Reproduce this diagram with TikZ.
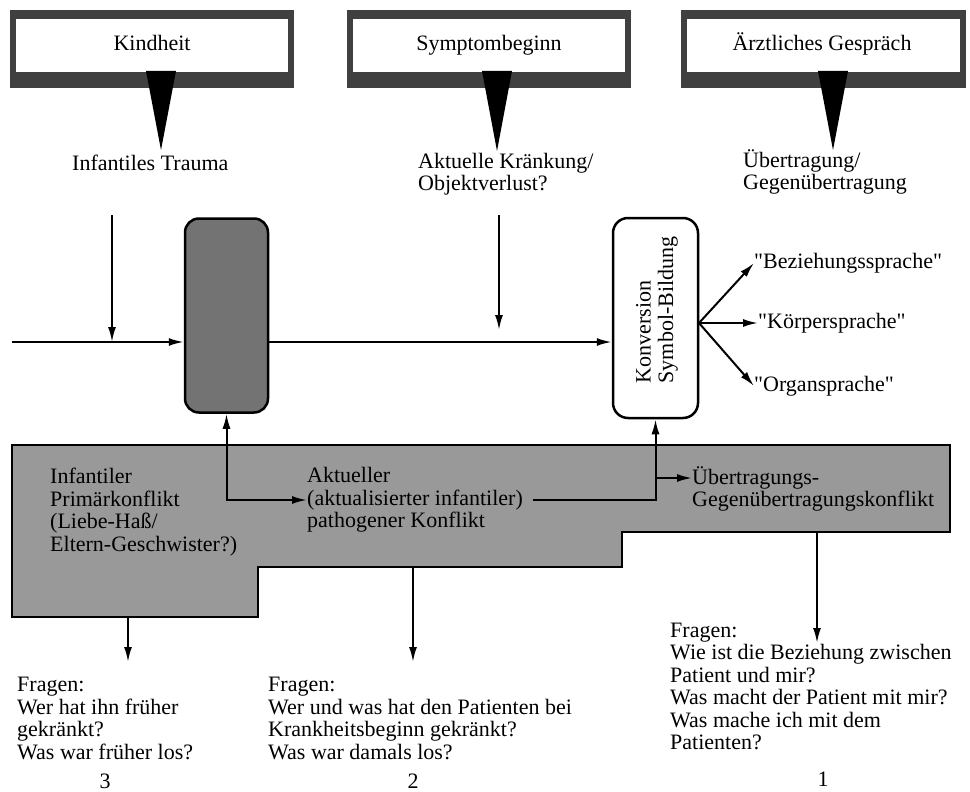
\documentclass[tikz,border=0pt]{standalone}
\usepackage{fontspec}
\newfontfamily\libser{Liberation Serif}
\usetikzlibrary{arrows.meta}
\begin{document}
\begin{tikzpicture}[x=1pt,y=-1pt,
  txt/.style={font=\libser\fontsize{22}{22.5}\selectfont, inner sep=0pt, align=left},
  arr/.style={line width=2pt, -{Latex[length=15pt,width=8pt]}},
  dblarr/.style={line width=2pt, {Latex[length=15pt,width=8pt]}-{Latex[length=15pt,width=8pt]}},
  band/.style={fill=black!75},
  wedge/.style={fill=black},
  region/.style={fill=black!40, draw=black, line width=2.5pt},
  rbox/.style={draw=black, line width=2.5pt, rounded corners=14pt, minimum width=83pt, minimum height=194pt, inner sep=0pt}
]
\useasboundingbox (0,0) rectangle (970,792);

% top boxes
\fill[band] (10,10) rectangle (294,88);
\fill[white] (16,19) rectangle (288,72);
\node[txt, anchor=base] (kind) at (152,51) {Kindheit};
\fill[wedge] (146,71) -- (176,71) -- (161,150) -- cycle;
\node[txt, anchor=west] (trauma) at (72,163) {Infantiles Trauma};

\fill[band] (347,10) rectangle (631,88);
\fill[white] (353,19) rectangle (625,72);
\node[txt, anchor=base] (symp) at (489,51) {Symptombeginn};
\fill[wedge] (482,71) -- (512,71) -- (497,151) -- cycle;
\node[txt, anchor=west] (kraenk) at (418,174) {Aktuelle Kränkung/\\Objektverlust?};

\fill[band] (681,10) rectangle (966,88);
\fill[white] (687,19) rectangle (960,72);
\node[txt, anchor=base] (arzt) at (822,51) {Ärztliches Gespräch};
\fill[wedge] (818,71) -- (848,71) -- (833,150) -- cycle;
\node[txt, anchor=west] (uebert) at (743,172) {Übertragung/\\Gegenübertragung};

% shaded region
\draw[region] (12,445) -- (950,445) -- (950,532) -- (622,532) -- (622,567) -- (258,567) -- (258,617) -- (12,617) -- cycle;
\node[txt, anchor=west] (inf) at (50,512) {Infantiler\\Primärkonflikt\\(Liebe-Haß/\\Eltern-Geschwister?)};
\node[txt, anchor=west] (akt) at (307,500) {Aktueller\\(aktualisierter infantiler)\\pathogener Konflikt};
\node[txt, anchor=west] (ueb) at (692,489) {Übertragungs-\\Gegenübertragungskonflikt};

% middle boxes
\node[rbox, fill=black!55] (box1) at (226.5,315.5) {};
\node[rbox, fill=white, minimum width=85pt, minimum height=200pt, rounded corners=15pt] (box2) at (655.5,318) {};
\node[txt, rotate=90] (konv) at (657,310) {Konversion\\Symbol-Bildung};

% horizontal flow
\coordinate (h0) at (12,342);
\draw[arr] (h0) -- (h0 -| box1.west);
\draw[arr] (h0 -| box1.east) -- (h0 -| box2.west);
\coordinate (v1) at (112,215);
\draw[arr] (v1) -- (v1 |- h0);
\coordinate (v2) at (499,215);
\coordinate (v2e) at (499,330);
\draw[arr] (v2) -- (v2e);

% fan
\coordinate (fan) at (699,323);
\node[txt, anchor=west] (bez) at (754,263) {"Beziehungssprache"};
\node[txt, anchor=west] (kp) at (758,323) {"Körpersprache"};
\node[txt, anchor=west] (org) at (754,386) {"Organsprache"};
\draw[arr] (fan) -- (bez.west);
\draw[arr] (fan) -- (kp.west);
\draw[arr] (fan) -- (org.west);

% region connectors
\draw[dblarr] (akt.west) -| (box1.south);
\draw[arr] ([xshift=10pt]akt.east) -| (box2.south);
\coordinate (uy) at (0,478);
\draw[arr] (box2.south |- uy) -- (ueb.west |- uy);

% bottom arrows
\coordinate (d3) at (128,617); \coordinate (d3e) at (128,662);
\draw[arr] (d3) -- (d3e);
\coordinate (d2) at (413,567); \coordinate (d2e) at (413,662);
\draw[arr] (d2) -- (d2e);
\coordinate (d1) at (817,532); \coordinate (d1e) at (817,643);
\draw[arr] (d1) -- (d1e);

% questions
\node[txt, anchor=west] (f3) at (17,718.5) {Fragen:\\Wer hat ihn früher\\gekränkt?\\Was war früher los?};
\node[txt, anchor=west] (f2) at (268,718.5) {Fragen:\\Wer und was hat den Patienten bei\\Krankheitsbeginn gekränkt?\\Was war damals los?};
\node[txt, anchor=west] (f1) at (670,686.5) {Fragen:\\Wie ist die Beziehung zwischen\\Patient und mir?\\Was macht der Patient mit mir?\\Was mache ich mit dem\\Patienten?};
\node[txt] (n3) at (105,781) {3};
\node[txt] (n2) at (413,781) {2};
\node[txt] (n1) at (823,779) {1};
\end{tikzpicture}
\end{document}
